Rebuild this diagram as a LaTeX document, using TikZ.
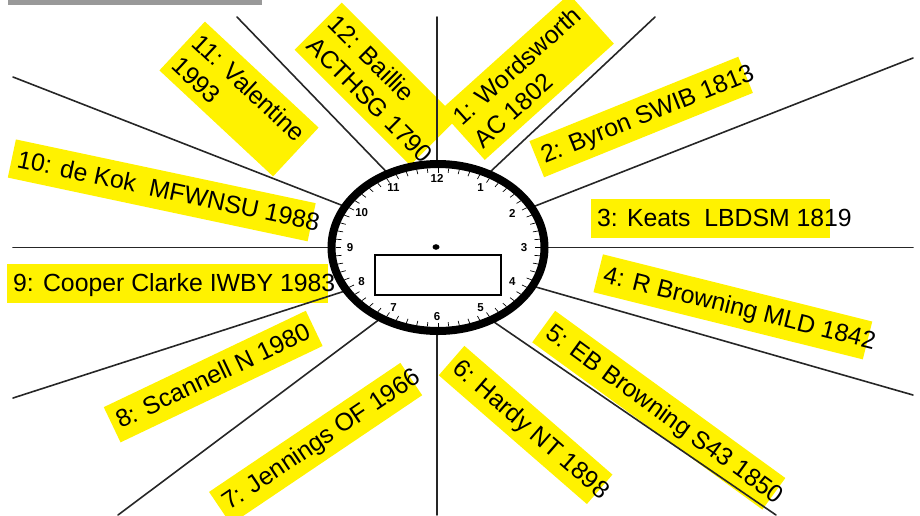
\documentclass[tikz,border=0pt]{standalone}
\usepackage{fontspec}
\setmainfont{Liberation Sans}
\begin{document}
\begin{tikzpicture}[x=1pt, y=-1pt]
% Poet clock traced in pixel units (y grows downwards)
\def\clockx{438}
\def\clocky{247.5}
\def\clockrx{106.5}
\def\clockry{83.5}
\providecommand{\poetLineColor}{black!85}
\providecommand{\poetHiColor}{yellow}
\providecommand{\poetLineWidth}{1.6pt}
\providecommand{\poetRingWidth}{8pt}
\tikzset{
  hilite/.style={fill=\poetHiColor, anchor=base west, inner xsep=6pt, inner ysep=8pt,
    text height=19pt, text depth=4pt, font=\fontsize{24.8}{30.5}\selectfont},
  hilitetwo/.style={fill=\poetHiColor, align=left, inner xsep=6pt, inner ysep=9pt,
    font=\fontsize{24.8}{30.5}\selectfont},
  hournum/.style={font=\bfseries\fontsize{11.5}{12}\selectfont, inner sep=0pt}
}
\clip (0,0) rectangle (920,515);
% Scrap of grey bar at top left
\fill[black!40] (8,0) rectangle (262,5);
% Highlighted labels
\begin{scope}
  \node[hilitetwo, rotate=42] (wordsworth) at (527,77) {1: Wordsworth\\AC 1802};
  \node[hilite, rotate=22] (byron) at (539.4,166.2) {2: Byron SWIB 181\rlap{3}};
  \node[hilite] (keats) at (591,226) {3: Keats\ \ LBDSM 18\rlap{19}};
  \node[hilite, rotate=-14] (rbrowning) at (596.2,280.5) {4: R Browning MLD 184\rlap{2}};
  \node[hilite, rotate=-36] (ebbrowning) at (539.1,332.5) {5: EB Browning S43 185\rlap{0}};
  \node[hilite, rotate=-41] (hardy) at (446.5,366.1) {6: Hardy NT 189\rlap{8}};
  \node[hilite, rotate=34] (jennings) at (224,514.4) {7: Jennings OF 196\rlap{6}};
  \node[hilite, rotate=25.5] (scannell) at (115.2,431.6) {8: Scannell N 1980};
  \node[hilite] (cooper) at (7,291) {9: Cooper Clarke IWBY 198\rlap{3}};
  \node[hilite, rotate=-12] (dekok) at (10.1,165.8) {10: de Kok\ \ MFWNSU 198\rlap{8}};
  \node[hilitetwo, rotate=-43] (valentine) at (239,99) {11: Valentine\\1993};
  \node[hilitetwo, rotate=-45] (baillie) at (376,84) {12: Baillie\\ACTHSG 179\rlap{0}};
\end{scope}
% Spokes
\begin{scope}[draw=\poetLineColor, line width=\poetLineWidth, line cap=round]
  \draw (437,17) -- (437,166);
  \draw (437,329) -- (437,515);
  \draw (13,247.5) -- (333,247.5);
  \draw (543,247.5) -- (913,247.5);
  \draw (237,17) -- (388,173.5);
  \draw (13,77) -- (344.7,206.4);
  \draw (655,17) -- (487.7,174.2);
  \draw (913,58) -- (530.3,207.9);
  \draw (913,395) -- (531.3,285.7);
  \draw (776,515) -- (490.5,319.6);
  \draw (118,515) -- (380.8,318.3);
  \draw (13,398) -- (346.2,290.6);
\end{scope}
% Clock face
\fill[white] (\clockx,\clocky) ellipse [x radius=\clockrx, y radius=\clockry];
\draw[line width=\poetRingWidth] (\clockx,\clocky) ellipse [x radius=\clockrx, y radius=\clockry];
\foreach \a in {0,6,...,354}
  \draw[line width=0.7pt] ({\clockx+102.5*cos(\a)},{\clocky+79.5*sin(\a)}) -- ({\clockx+97*cos(\a)},{\clocky+75*sin(\a)});
\foreach \h in {1,...,12}
  \node[hournum] (hour\h) at ({\clockx-1+87*cos(90-30*\h)},{\clocky-69*sin(90-30*\h)}) {\h};
\fill (436,247) ellipse [x radius=3.5, y radius=2.8];
\draw[line width=1.6pt] (375,255) rectangle (501,295);
\end{tikzpicture}
\end{document}
